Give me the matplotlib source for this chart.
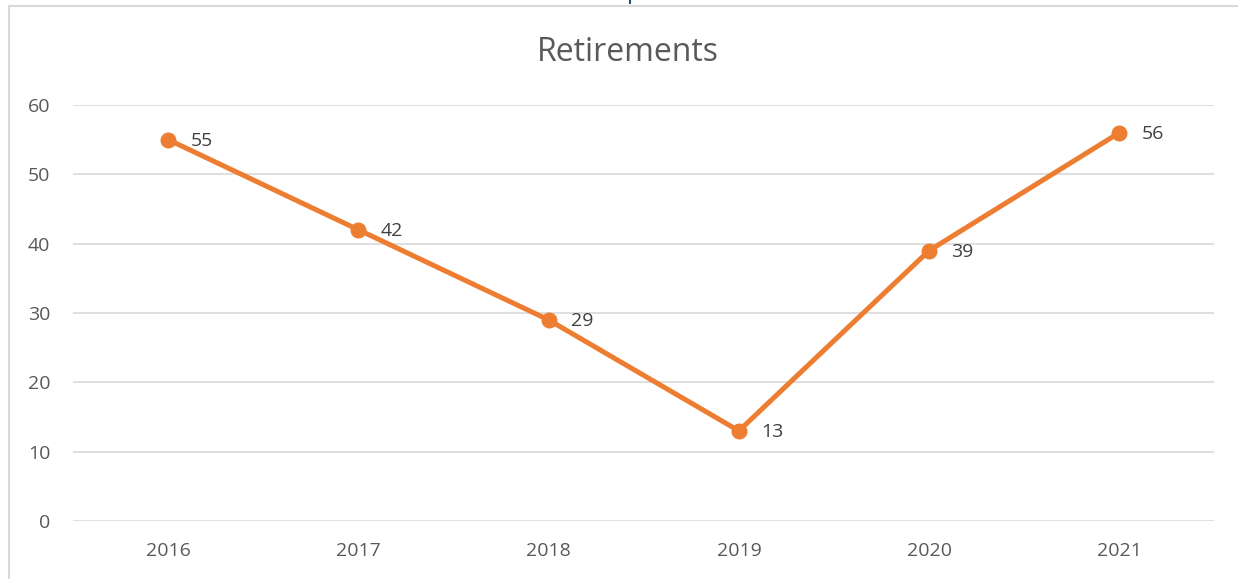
import matplotlib.pyplot as plt
from matplotlib.lines import Line2D

years = ["2016", "2017", "2018", "2019", "2020", "2021"]
retirements = [55, 42, 29, 13, 39, 56]

plt.rcParams['font.family'] = ['Open Sans', 'DejaVu Sans']

fig = plt.figure(figsize=(12.38, 5.79), dpi=100)
ax = fig.add_axes([0.059, 0.1002, 0.922, 0.7185])

x = range(len(years))
ax.plot(x, retirements, color='#ED7D31', linewidth=3.6, marker='o', markersize=10.5,
        solid_capstyle='round')
for xi, v in zip(x, retirements):
    ax.annotate(str(v), (xi, v), xytext=(16, -1), textcoords='offset points',
                va='center', ha='left', fontsize=14, color='#404040')

ax.set_xlim(-0.5, len(years) - 0.5)
ax.set_ylim(0, 60)
ax.set_yticks(range(0, 61, 10))
ax.set_xticks(list(x))
ax.set_xticklabels(years)
ax.tick_params(axis='both', length=0, labelsize=14, labelcolor='#595959')
ax.tick_params(axis='y', pad=16.5)
ax.tick_params(axis='x', pad=15)
ax.grid(axis='y', color='#d9d9d9', linewidth=1.2)
ax.set_axisbelow(True)
for s in ax.spines.values():
    s.set_visible(False)

fig.text(0.507, 0.909, "Retirements", ha='center', va='center', fontsize=23, color='#595959')

# chart frame, cut off at right and bottom
fig.add_artist(Line2D([9/1238, 1], [1 - 6/579, 1 - 6/579], color='#d9d9d9', linewidth=1.5))
fig.add_artist(Line2D([9/1238, 9/1238], [0, 1 - 6/579], color='#d9d9d9', linewidth=1.5))
fig.add_artist(Line2D([630/1238, 630/1238], [1 - 3/579, 1], color='#1f4e79', linewidth=1.5))

fig.savefig('out.png', dpi=100)
